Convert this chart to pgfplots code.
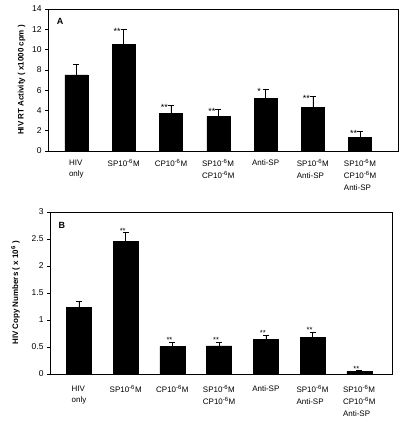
\documentclass[border=0pt]{standalone}
\usepackage{fontspec}
\setmainfont{Liberation Sans}
\usepackage{pgfplots}
\pgfplotsset{compat=1.18}
\begin{document}
\begin{tikzpicture}
\useasboundingbox (0,0) rectangle (400bp,-426bp);
\pgfplotsset{
  panel/.style={
    scale only axis,
    anchor=south west,
    ybar,
    ymin=0,
    axis line style={line width=0.6pt},
    enlargelimits=false,
    xtick=data,
    xtick style={draw=none},
    ytick style={black, line width=0.5pt},
    ytick pos=left,
    tick align=outside,
    major tick length=3bp,
    /pgf/number format/assume math mode=true,
    yticklabel style={font=\fontsize{8.5}{9}\selectfont},
    xticklabel style={font=\fontsize{8}{12}\selectfont, align=left, anchor=north, yshift=-2bp},
    ylabel style={font=\bfseries\fontsize{8}{9}\selectfont},
    xticklabels={HIV\\only, SP10\textsuperscript{-6}M, CP10\textsuperscript{-6}M, SP10\textsuperscript{-6}M\\CP10\textsuperscript{-6}M, Anti-SP, SP10\textsuperscript{-6}M\\Anti-SP, SP10\textsuperscript{-6}M\\CP10\textsuperscript{-6}M\\Anti-SP},
  },
  barstyle/.style={fill=black, draw=black,
    error bars/.cd, y dir=plus, y explicit,
    error bar style={line width=0.6pt, black},
    error mark options={rotate=90, mark size=3bp, line width=0.6pt, black}},
  stars/.style={draw=none, mark=none, forget plot,
    nodes near coords, point meta=explicit symbolic},
}
% Panel A
\begin{axis}[panel,
  at={(48bp,-151bp)}, width=350bp, height=142bp,
  xmin=-0.6, xmax=6.8, ymax=14, ytick={0,2,...,14},
  bar width=23bp,
  ylabel={HIV RT Activity ( x1000 cpm )},
]
\addplot[bar shift=0pt, barstyle] coordinates {
  (0,7.5) +- (0,1.0)
  (1,10.5) +- (0,1.5)
  (2,3.7) +- (0,0.8)
  (3,3.4) +- (0,0.7)
  (4,5.2) +- (0,0.9)
  (5,4.3) +- (0,1.05)
  (6,1.35) +- (0,0.55)
};
\addplot[bar shift=0pt, stars,
  every node near coord/.append style={font=\fontsize{9}{9}\selectfont, anchor=center, xshift=-6.5bp, yshift=-2bp}] coordinates {
  (1,12.0) [**]
  (2,4.5) [**]
  (3,4.1) [**]
  (4,6.1) [*]
  (5,5.35) [**]
  (6,1.9) [**]
};
\node[font=\bfseries\fontsize{9}{9}\selectfont, anchor=north west] at (rel axis cs:0.015,0.96) {A};
\end{axis}
% Panel B
\begin{axis}[panel,
  at={(50bp,-374bp)}, width=342bp, height=162bp,
  xmin=-0.62, xmax=6.7, ymax=3, ytick={0,0.5,...,3},
  bar width=25bp,
  ylabel={HIV Copy Numbers ( x 10\textsuperscript{6} )},
  ylabel style={yshift=5bp},
  xticklabel style={yshift=-3bp},
]
\addplot[bar shift=0pt, barstyle] coordinates {
  (0,1.23) +- (0,0.12)
  (1,2.46) +- (0,0.16)
  (2,0.51) +- (0,0.08)
  (3,0.52) +- (0,0.07)
  (4,0.64) +- (0,0.08)
  (5,0.68) +- (0,0.09)
  (6,0.05) +- (0,0.01)
};
\addplot[bar shift=0pt, stars,
  every node near coord/.append style={font=\fontsize{7.5}{7.5}\selectfont, anchor=center, xshift=-3bp, yshift=2bp}] coordinates {
  (1,2.62) [**]
  (2,0.59) [**]
  (3,0.59) [**]
  (4,0.72) [**]
  (5,0.77) [**]
  (6,0.06) [**]
};
\node[font=\bfseries\fontsize{9}{9}\selectfont, anchor=north west] at (rel axis cs:0.015,0.96) {B};
\end{axis}
\end{tikzpicture}
\end{document}
